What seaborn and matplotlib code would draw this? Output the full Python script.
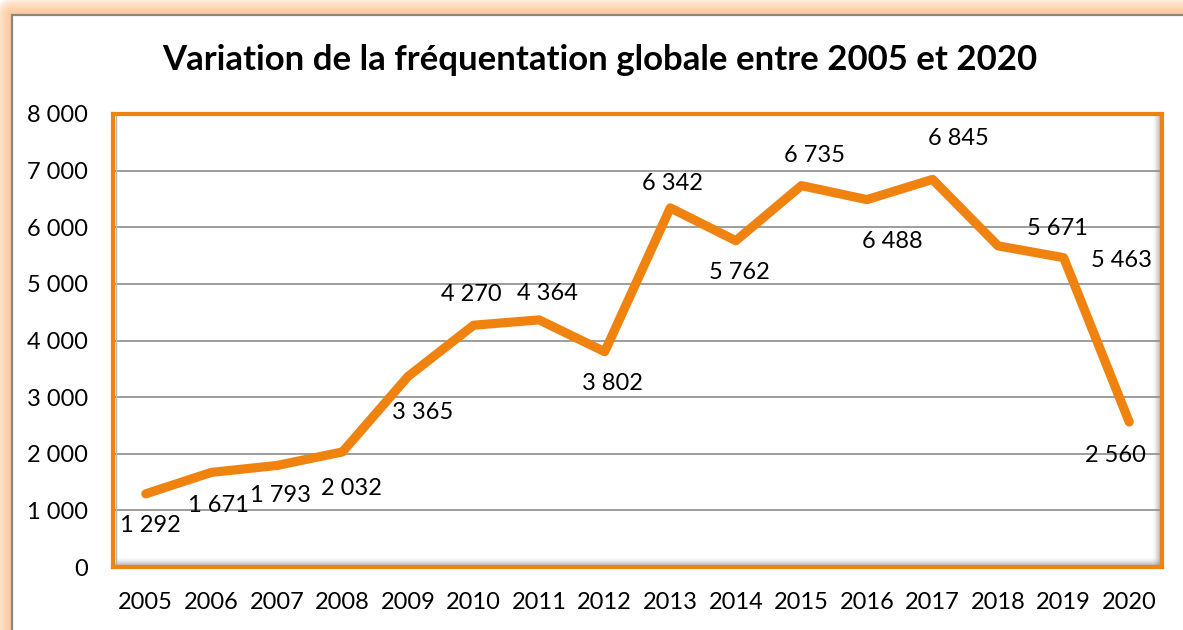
import numpy as np
import pandas as pd
import seaborn as sns
import matplotlib
matplotlib.use("Agg")
import matplotlib.pyplot as plt

years = [2005, 2006, 2007, 2008, 2009, 2010, 2011, 2012,
         2013, 2014, 2015, 2016, 2017, 2018, 2019, 2020]
visits = [1292, 1671, 1793, 2032, 3365, 4270, 4364, 3802,
          6342, 5762, 6735, 6488, 6845, 5671, 5463, 2560]
y_ticks = [0, 1000, 2000, 3000, 4000, 5000, 6000, 7000, 8000]
title = "Variation de la fréquentation globale entre 2005 et 2020"

# label offsets in pixels (dx, dy) relative to each point
label_offsets = [(5, -32), (7, -33), (4, -30), (9, -37), (15, -36), (-2, 31),
                 (8, 26), (8, -32), (2, 24), (4, -32), (13, 30), (25, -42),
                 (26, 41), (59, 17), (58, -3), (-14, -33)]

ORANGE = "#F0820F"
W, H = 1183, 630

sns.set_theme(style="white")
plt.rcParams["font.family"] = ["Lato", "DejaVu Sans"]

fig = plt.figure(figsize=(W / 100, H / 100), dpi=100)

# background: outer frame with orange glow on top and left
bg = fig.add_axes([0, 0, 1, 1], zorder=-5)
fx, fy = 12, 15
xx, yy = np.meshgrid(np.arange(W) + 0.5, np.arange(H) + 0.5)
dx = np.clip(fx - xx, 0, None)
dy = np.clip(fy - yy, 0, None)
d = np.hypot(dx, dy)
outside = (xx < fx) | (yy < fy)
a = np.where(outside, np.clip(1 - d / 17.0, 0, 1) ** 0.6, 0.0)
glow = np.zeros((H, W, 4))
glow[..., 0] = 253 / 255
glow[..., 1] = 198 / 255
glow[..., 2] = 148 / 255
glow[..., 3] = a
bg.imshow(glow, extent=(0, W, H, 0), aspect="auto", interpolation="bilinear")
bg.plot([fx, fx, W], [H, fy, fy], color="#878787", lw=1.6, solid_joinstyle="miter")
bg.set_xlim(0, W)
bg.set_ylim(H, 0)
bg.axis("off")

# plot area
left, right, top, bottom = 113, 1162, 114, 567
ax = fig.add_axes([left / W, 1 - bottom / H, (right - left) / W, (bottom - top) / H])
ax.set_facecolor("white")

df = pd.DataFrame({"year": years, "visits": visits})

# inner shadow on right and bottom edges of the plot area
ramp = np.linspace(0, 1, 32)
shade_r = np.zeros((2, 32, 4))
shade_r[..., :3] = 0.55
shade_r[..., 3] = ramp ** 1.6 * 0.85
ax.imshow(shade_r, extent=(1 - 10 / 1049, 1, 0, 1), transform=ax.transAxes,
          aspect="auto", interpolation="bilinear", zorder=1)
shade_b = np.zeros((32, 2, 4))
shade_b[..., :3] = 0.55
shade_b[..., 3] = (ramp ** 1.6 * 0.85)[:, None]
ax.imshow(shade_b, extent=(0, 1, 0, 10 / 453), transform=ax.transAxes,
          aspect="auto", interpolation="bilinear", zorder=1)
ax.plot([0.003, 0.003], [0, 1], transform=ax.transAxes, color="#b5b5b5", lw=1.0, zorder=1)

sns.lineplot(data=df, x="year", y="visits", ax=ax, color=ORANGE, lw=6.6,
             solid_capstyle="round", solid_joinstyle="round", zorder=4)

for yr, v, (ox, oy) in zip(years, visits, label_offsets):
    ax.annotate(f"{v:,}".replace(",", " "), (yr, v), xytext=(ox, oy),
                textcoords="offset pixels", ha="center", va="center",
                fontsize=17, color="black", zorder=5)

ax.set_xlim(years[0] - 0.5, years[-1] + 0.5)
ax.set_ylim(0, 8000)
ax.set_xticks(years)
ax.set_xticklabels([str(y) for y in years])
ax.set_yticks(y_ticks)
ax.set_yticklabels([f"{v:,}".replace(",", " ") for v in y_ticks])
ax.tick_params(axis="both", length=0, labelsize=17, colors="black")
ax.tick_params(axis="y", pad=18)
ax.tick_params(axis="x", pad=18)
ax.grid(axis="y", color="#8c8c8c", lw=1.2, zorder=0)
ax.set_axisbelow(True)
ax.set_xlabel("")
ax.set_ylabel("")
for s in ax.spines.values():
    s.set_color(ORANGE)
    s.set_linewidth(3.0)
    s.set_zorder(6)

fig.text(0.507, 1 - 60 / H, title, ha="center", va="center",
         fontsize=25, fontweight="bold", color="black")

fig.savefig("out.png", dpi=100)
